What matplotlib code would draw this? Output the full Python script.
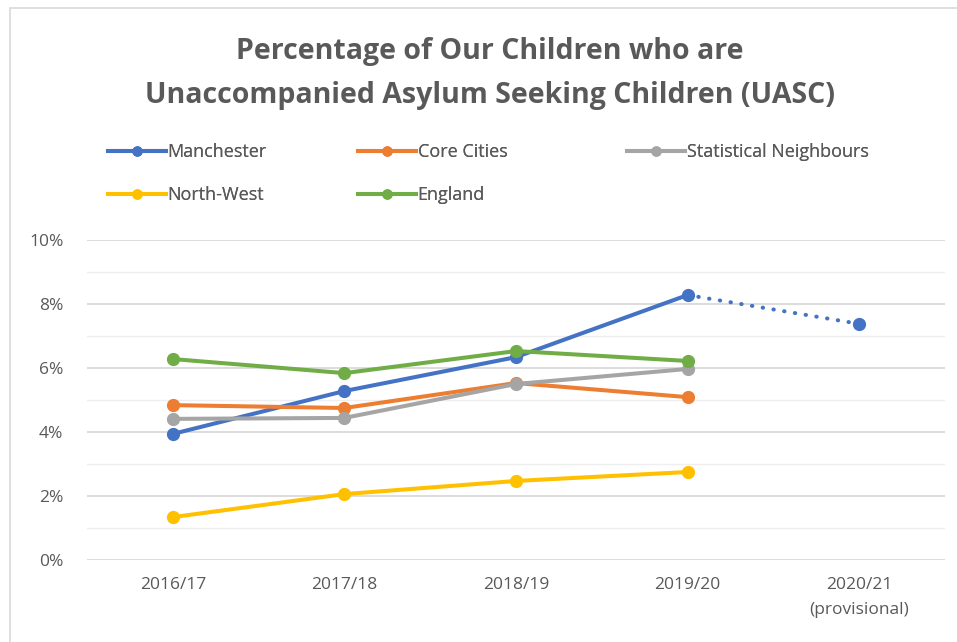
import matplotlib.pyplot as plt
from matplotlib.patches import Rectangle
from matplotlib.lines import Line2D
from matplotlib.ticker import PercentFormatter, MultipleLocator

plt.rcParams['font.family'] = ['Open Sans', 'DejaVu Sans']

# data (percent)
years = ["2016/17", "2017/18", "2018/19", "2019/20", "2020/21\n(provisional)"]
manchester = [3.94, 5.28, 6.34, 8.28, 7.38]
core_cities = [4.84, 4.75, 5.53, 5.09]
stat_neighbours = [4.41, 4.44, 5.50, 5.97]
north_west = [1.34, 2.06, 2.47, 2.75]
england = [6.28, 5.84, 6.53, 6.22]

blue, orange, grey, yellow, green = "#4472C4", "#ED7D31", "#A5A5A5", "#FFC000", "#70AD47"
txt = "#595959"

fig = plt.figure(figsize=(9.57, 6.42), dpi=100)
W, H = 957, 642
ax = fig.add_axes([87 / W, 1 - 560 / H, (945 - 87) / W, (560 - 240) / H])

# chart border
fig.patches.append(Rectangle((10 / W, -0.1), 1.2, 1 - 8 / H + 0.1, transform=fig.transFigure,
                             fill=False, edgecolor="#D9D9D9", linewidth=1.2))

x = list(range(len(years)))
lw, ms = 2.9, 8.5
ax.plot(x[:4], manchester[:4], color=blue, lw=lw, marker="o", ms=ms, solid_capstyle="round")
ax.plot(x[3:], manchester[3:], color=blue, lw=lw, linestyle=(0, (0.1, 2.6)),
        dash_capstyle="round", zorder=2)
ax.plot(x[4:], manchester[4:], color=blue, marker="o", ms=ms, lw=0)
ax.plot(x[:4], core_cities, color=orange, lw=lw, marker="o", ms=ms)
ax.plot(x[:4], stat_neighbours, color=grey, lw=lw, marker="o", ms=ms)
ax.plot(x[:4], north_west, color=yellow, lw=lw, marker="o", ms=ms)
ax.plot(x[:4], england, color=green, lw=lw, marker="o", ms=ms)

ax.set_xlim(-0.5, 4.5)
ax.set_ylim(0, 10)
ax.yaxis.set_major_locator(MultipleLocator(2))
ax.yaxis.set_minor_locator(MultipleLocator(1))
ax.yaxis.set_major_formatter(PercentFormatter(decimals=0))
ax.grid(axis="y", which="major", color="#D9D9D9", lw=1.3)
ax.grid(axis="y", which="minor", color="#EFEFEF", lw=1.0)
ax.set_axisbelow(True)
for s in ax.spines.values():
    s.set_visible(False)
ax.set_xticks(x)
ax.set_xticklabels(years, fontsize=12.5, color=txt, linespacing=1.75, va="top")
ax.tick_params(axis="both", which="both", length=0, labelsize=12.5, labelcolor=txt)
ax.tick_params(axis="y", pad=17)
ax.tick_params(axis="x", pad=12)

fig.text(0.512, 1 - 51 / H, "Percentage of Our Children who are", ha="center", va="center",
         fontsize=20.5, fontweight="bold", color=txt)
fig.text(0.512, 1 - 96 / H, "Unaccompanied Asylum Seeking Children (UASC)", ha="center",
         va="center", fontsize=20.5, fontweight="bold", color=txt)

# legend, three hand-placed columns like the original
def handle(c):
    return Line2D([], [], color=c, lw=lw, marker="o", ms=6.5)

cols = [
    (108, [("Manchester", blue), ("North-West", yellow)]),
    (358, [("Core Cities", orange), ("England", green)]),
    (627, [("Statistical Neighbours", grey)]),
]
for xpos, entries in cols:
    leg = fig.legend([handle(c) for _, c in entries], [n for n, _ in entries],
                     loc="upper left", bbox_to_anchor=(xpos / W, 1 - 143 / H),
                     frameon=False, fontsize=13, handlelength=3.2, handletextpad=0.1,
                     labelspacing=1.4, borderpad=0, borderaxespad=0, labelcolor=txt)
    fig.add_artist(leg)

fig.savefig("out.png", dpi=100, facecolor="white")
